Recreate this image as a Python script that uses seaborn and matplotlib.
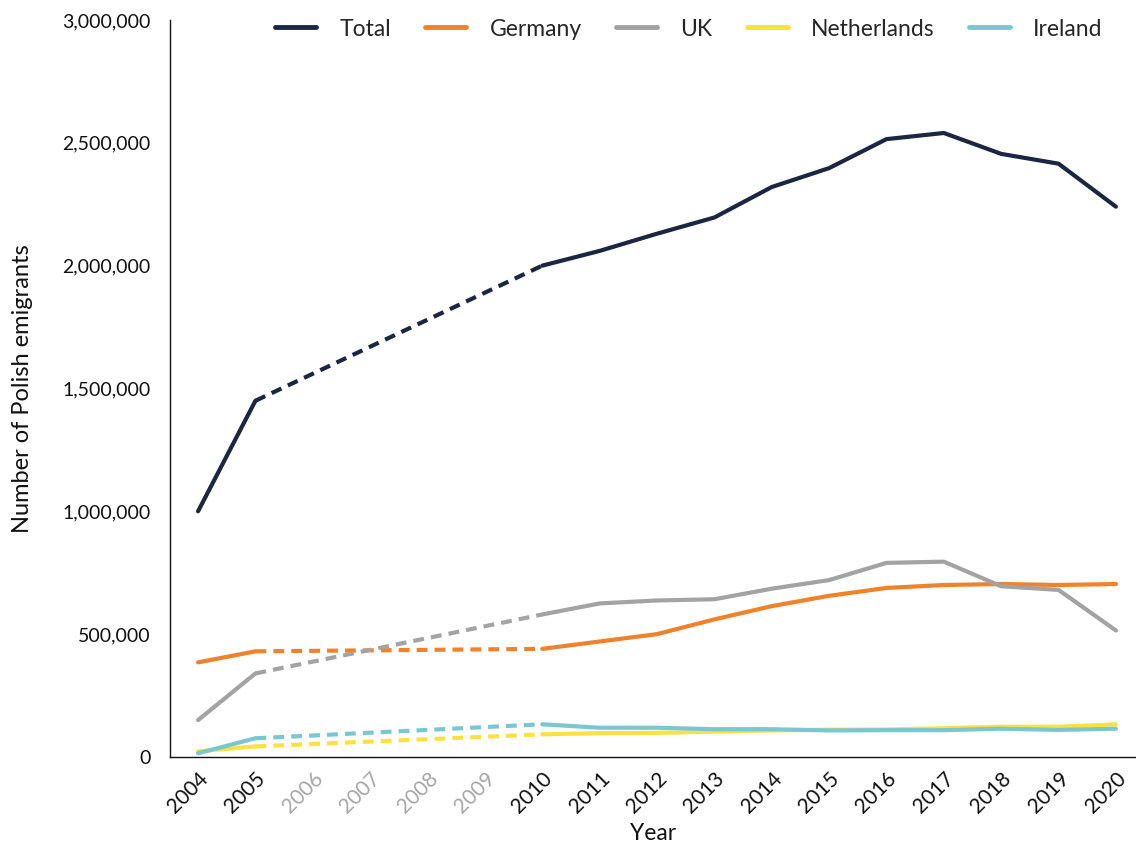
import matplotlib
matplotlib.use("Agg")
import matplotlib.pyplot as plt
import pandas as pd
import seaborn as sns
from matplotlib.ticker import FuncFormatter

# Data (2006-2009 missing -> bridged with dashed line)
years = [2004, 2005, 2010, 2011, 2012, 2013, 2014, 2015, 2016, 2017, 2018, 2019, 2020]
total = [1000000, 1450000, 2000000, 2060000, 2130000, 2196000, 2320000, 2397000, 2515000, 2540000, 2455000, 2415000, 2240000]
germany = [385000, 430000, 440000, 470000, 500000, 560000, 614000, 656000, 688000, 700000, 704000, 700000, 704000]
uk = [150000, 340000, 580000, 625000, 637000, 642000, 685000, 720000, 790000, 795000, 695000, 680000, 515000]
netherlands = [23000, 43000, 92000, 97000, 98000, 103000, 108000, 111000, 112000, 117000, 123000, 123000, 133000]
ireland = [15000, 76000, 133000, 119000, 119000, 113000, 113000, 108000, 109000, 109000, 115000, 110000, 115000]

series = ['Total', 'Germany', 'UK', 'Netherlands', 'Ireland']
colors = ['#1b2741', '#f2822a', '#a3a3a3', '#fde13f', '#79c7d1']
all_years = list(range(2004, 2021))
missing_years = [2006, 2007, 2008, 2009]

rows = []
for name, vals in zip(series, [total, germany, uk, netherlands, ireland]):
    for y, v in zip(years, vals):
        rows.append({'year': y, 'value': v, 'country': name,
                     'segment': 'a' if y <= 2005 else 'b'})
df = pd.DataFrame(rows)
df_gap = df[df['year'].isin([2005, 2010])]

sns.set_style("white")
plt.rcParams['font.family'] = ['Lato', 'DejaVu Sans']

fig = plt.figure(figsize=(11.36, 8.47), dpi=100)
ax = fig.add_axes([0.1496, 0.1063, 0.8504, 0.8701])

palette = dict(zip(series, colors))
sns.lineplot(data=df, x='year', y='value', hue='country', units='segment',
             estimator=None, palette=palette, hue_order=series, linewidth=3.0,
             ax=ax, legend=False)
sns.lineplot(data=df_gap, x='year', y='value', hue='country', estimator=None,
             palette=palette, hue_order=series, linewidth=3.0,
             linestyle=(0, (2.6, 1.7)), ax=ax, legend=False)

ax.set_xlim(2003.51, 2020.35)
ax.set_ylim(0, 3000000)
ax.set_yticks(range(0, 3000001, 500000))
ax.yaxis.set_major_formatter(FuncFormatter(lambda v, p: f'{int(v):,}'))
ax.set_xticks(all_years)
ax.set_xticklabels([str(y) for y in all_years], rotation=45, ha='right',
                   rotation_mode='anchor')
ax.tick_params(axis='both', length=0, colors='#111111')
ax.tick_params(axis='y', labelsize=14, pad=14)
ax.tick_params(axis='x', labelsize=15, pad=8)
for lbl, y in zip(ax.get_xticklabels(), all_years):
    if y in missing_years:
        lbl.set_color('#a6a6a6')

for s in ['top', 'right']:
    ax.spines[s].set_visible(False)
for s in ['left', 'bottom']:
    ax.spines[s].set_color('#111111')
    ax.spines[s].set_linewidth(1.0)

ax.set_xlabel('Year', fontsize=16.5, color='#111111', labelpad=5)
ax.set_ylabel('Number of Polish emigrants', fontsize=17, color='#111111', labelpad=21)

handles = [plt.Line2D([], [], color=c, linewidth=3.5) for c in colors]
ax.legend(handles, series, loc='upper center', bbox_to_anchor=(0.537, 1.03),
          ncol=5, frameon=False, fontsize=16.5, handlelength=1.8,
          handletextpad=1.0, columnspacing=1.5)

fig.savefig('out.png', dpi=100)
